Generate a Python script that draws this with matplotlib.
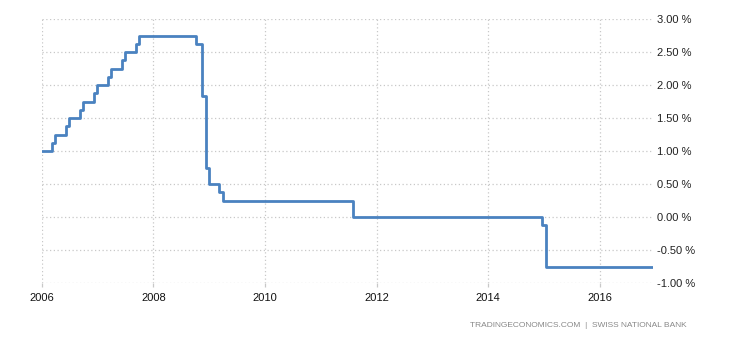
import matplotlib.pyplot as plt
from matplotlib.ticker import FuncFormatter

# step dates (decimal years) and rate values (%)
dates = [2006.0, 2006.185, 2006.238, 2006.435, 2006.49, 2006.687, 2006.735,
         2006.937, 2006.985, 2007.19, 2007.24, 2007.435, 2007.49, 2007.69,
         2007.745, 2008.76, 2008.87, 2008.94, 2009.0, 2009.18, 2009.25,
         2011.58, 2014.96, 2015.04, 2016.94]
rates = [1.00, 1.125, 1.25, 1.375, 1.50, 1.625, 1.75,
         1.875, 2.00, 2.125, 2.25, 2.375, 2.50, 2.625,
         2.75, 2.625, 1.83, 0.75, 0.50, 0.375, 0.25,
         0.00, -0.125, -0.75, -0.75]

year_ticks = [2006, 2008, 2010, 2012, 2014, 2016]
rate_ticks = [-1.0, -0.5, 0.0, 0.5, 1.0, 1.5, 2.0, 2.5, 3.0]

plt.rcParams['font.family'] = ['Liberation Sans', 'DejaVu Sans']

fig = plt.figure(figsize=(7.3, 3.4), dpi=100)
ax = fig.add_axes([0.0571, 0.1676, 0.8374, 0.7765])

ax.plot(dates, rates, drawstyle='steps-post', color='#4a82c0', linewidth=2)

ax.set_xlim(2006, 2016.95)
ax.set_ylim(-1, 3)
ax.set_xticks(year_ticks)
ax.set_yticks(rate_ticks)
ax.yaxis.tick_right()
ax.yaxis.set_major_formatter(FuncFormatter(lambda v, p: '%.2f %%' % v))

ax.grid(True, color='#c8c8c8', linestyle=(0, (1, 2)), linewidth=0.9)
for s in ax.spines.values():
    s.set_visible(False)
ax.tick_params(axis='y', length=0, pad=3, labelsize=8, colors='#222222')
ax.tick_params(axis='x', length=3, width=0.9, color='#c8c8c8', pad=4,
               labelsize=8, labelcolor='#111111')

fig.text(0.94, 0.042, 'TRADINGECONOMICS.COM  |  SWISS NATIONAL BANK',
         ha='right', va='center', fontsize=6, color='#888888')

plt.savefig('out.png', dpi=100)
